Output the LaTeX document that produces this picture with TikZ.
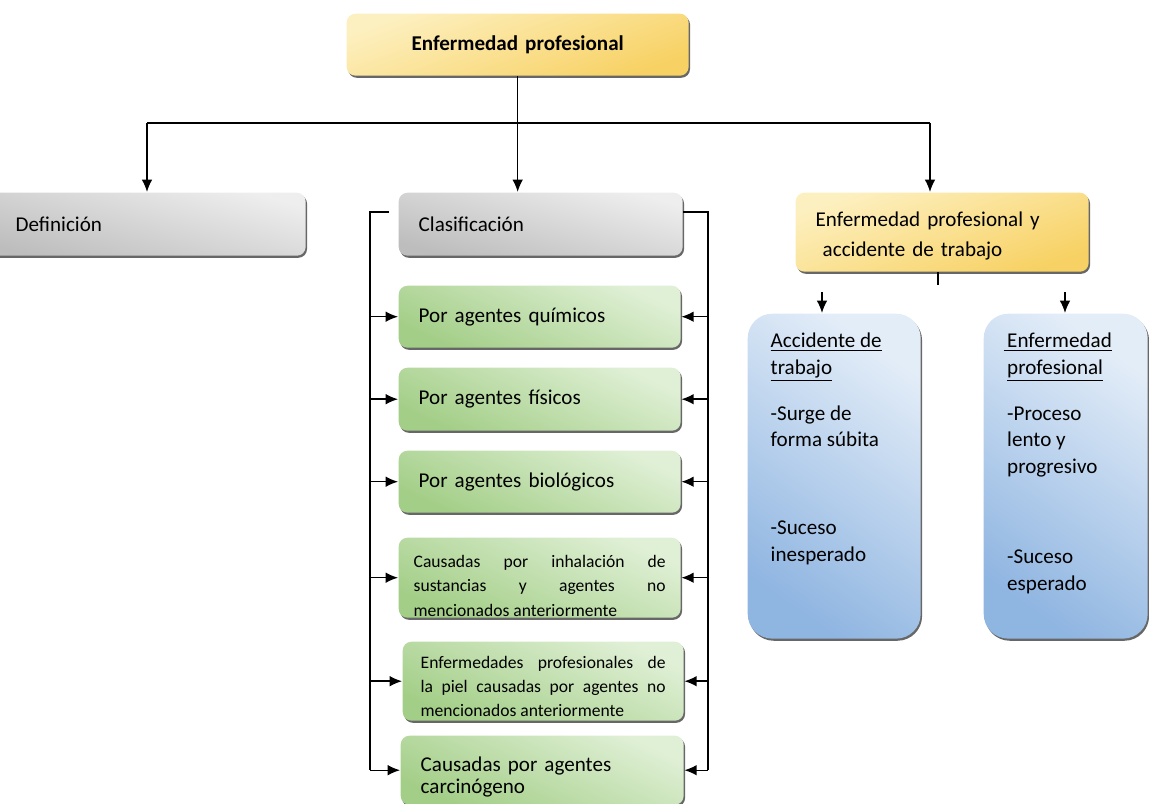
\documentclass[tikz,border=0pt]{standalone}
\usepackage{fontspec}
\setmainfont{Carlito}
\usetikzlibrary{shadows,arrows.meta}

\definecolor{oro}{HTML}{F7D163}
\definecolor{oroclaro}{HTML}{FDF0C0}
\definecolor{gris}{HTML}{BDBDBD}
\definecolor{grisclaro}{HTML}{EEEEEE}
\definecolor{verde}{HTML}{A3CE87}
\definecolor{verdeclaro}{HTML}{E0F0D6}
\definecolor{azul}{HTML}{8FB5E1}
\definecolor{azulclaro}{HTML}{E3EDF8}

\begin{document}
\begin{tikzpicture}[x=0.02cm, y=-0.02cm, line width=0.8pt,
	caja/.style={rounded corners=5pt, anchor=north west, inner xsep=0.4cm, align=left,
		font=\fontsize{12}{15}\selectfont,
		drop shadow={shadow xshift=0.8pt, shadow yshift=-1.2pt, fill=black!70, opacity=0.85}},
	amarilla/.style={caja, top color=oroclaro, bottom color=oro, shading angle=20},
	gris/.style={caja, top color=grisclaro, bottom color=gris, shading angle=-15},
	verde/.style={caja, top color=verdeclaro, bottom color=verde, shading angle=-25},
	azul/.style={caja, rounded corners=14pt, inner sep=0pt, top color=azulclaro, bottom color=azul, shading angle=-35},
	texto/.style={anchor=north west, inner sep=0pt, align=left, font=\fontsize{12}{15.3}\selectfont},
	flecha/.style={-{Latex[length=7pt,width=6pt]}}]
	% Margins
	\clip (0,0) rectangle (1149,804);
	
	% Top box
	\node [amarilla, text width=6.04cm, minimum height=1.24cm, align=center,
		font=\fontsize{12}{14}\selectfont\bfseries] (ep) at (346,13) {Enfermedad\ profesional};
	
	% Second row
	\node [gris, inner xsep=0.7cm, text width=5.1cm, minimum height=1.26cm] (def) at (-20,192) {Definición};
	\node [gris, text width=4.88cm, minimum height=1.26cm] (clas) at (398,192) {Clasificación};
	\node [amarilla, text width=5.06cm, minimum height=1.58cm, text height=13.8pt, text depth=20pt,
		font=\fontsize{12}{17}\selectfont] (epat) at (795,192)
		{Enfermedad profesional y\\\hspace{4pt}accidente de trabajo};
	
	% Classification boxes
	\node [verde, text width=4.84cm, minimum height=1.24cm] (qui) at (398,285) {Por agentes químicos};
	\node [verde, text width=4.84cm, minimum height=1.26cm] (fis) at (398,367) {Por agentes físicos};
	\node [verde, text width=4.84cm, minimum height=1.24cm] (bio) at (398,450) {Por agentes biológicos};
	\node [verde, inner xsep=0.3cm, inner ysep=0pt, text width=5.04cm, minimum height=1.6cm, align=justify,
		text height=16.5pt, text depth=28.5pt, font=\fontsize{10}{14}\selectfont] (inh) at (398,537)
		{Causadas por inhalación de\linebreak sustancias y agentes no\linebreak mencionados anteriormente};
	\node [verde, inner xsep=0.36cm, inner ysep=0pt, text width=4.9cm, minimum height=1.58cm, align=justify,
		text height=14.8pt, text depth=29pt, font=\fontsize{10}{13.5}\selectfont] (piel) at (402,641)
		{Enfermedades profesionales de\linebreak la piel causadas por agentes no\linebreak mencionados anteriormente};
	\node [verde, inner ysep=0pt, text width=4.86cm, minimum height=1.38cm, text height=17pt, text depth=16pt,
		font=\fontsize{12}{13}\selectfont] (carc) at (400,735)
		{Causadas por agentes\\carcinógeno};
	
	% Comparison boxes
	\node [azul, minimum width=3.46cm, minimum height=6.5cm] (acc) at (747,313) {};
	\node [azul, minimum width=3.28cm, minimum height=6.5cm] (enf) at (983,313) {};
	\node [texto] (acctxt) at (770,332)
		{\underline{Accidente de}\\\underline{trabajo}\\[10.8pt]-Surge de\\forma súbita\\[34.6pt]-Suceso\\inesperado};
	\node [texto] (enftxt) at (1003,332)
		{\underline{\hspace{2pt}Enfermedad}\\\hspace{2pt}\underline{profesional}\\[10.8pt]\hspace{2pt}-Proceso\\\hspace{2pt}lento y\\\hspace{2pt}progresivo\\[35.6pt]\hspace{2pt}-Suceso\\\hspace{2pt}esperado};
	
	% Connectors from the top box
	\coordinate (hl) at (147,123);
	\coordinate (hr) at (930,123);
	\draw (ep.south) -- (ep.south |- hl);
	\draw (hl) -- (hr);
	\draw [flecha] (hl) -- (hl |- def.north);
	\draw [flecha] (ep.south |- hl) -- (ep.south |- clas.north);
	\draw [flecha] (hr) -- (hr |- epat.north);
	
	% Connectors to the comparison boxes
	\coordinate (stub) at (938,285);
	\draw (stub |- epat.south) -- (stub);
	\coordinate (a1) at (822,292);
	\coordinate (a2) at (1065,292);
	\draw [flecha] (a1) -- (a1 |- acc.north);
	\draw [flecha] (a2) -- (a2 |- enf.north);
	
	% Brackets of the classification
	\coordinate (ltop) at (370,212);
	\coordinate (rtop) at (708,212);
	\draw [shorten <=5pt] (clas.west |- ltop) -- (ltop) -- (ltop |- carc.west);
	\draw (clas.east |- rtop) -- (rtop) -- (rtop |- carc.east);
	\foreach \n in {qui,fis,bio,inh,piel,carc}{
		\draw [flecha] (ltop |- \n.west) -- (\n.west);
		\draw [flecha] (rtop |- \n.east) -- (\n.east);
	}
\end{tikzpicture}
\end{document}
